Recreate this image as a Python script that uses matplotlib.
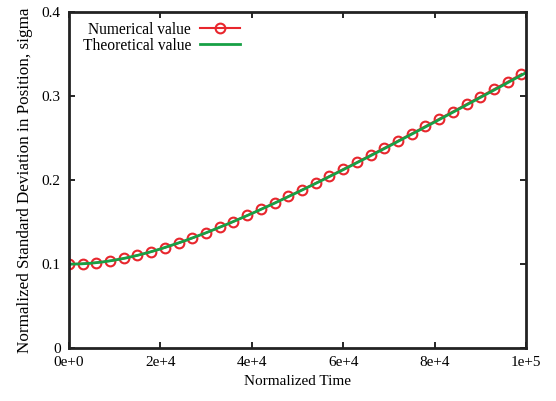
import matplotlib
matplotlib.use("Agg")
import matplotlib.pyplot as plt

plt.rcParams['font.family'] = ['Liberation Serif', 'DejaVu Serif']
plt.rcParams['mathtext.fontset'] = 'stix'

# numerical points (every 3000 time units)
num_time = [0, 3000, 6000, 9000, 12000, 15000, 18000, 21000, 24000, 27000,
            30000, 33000, 36000, 39000, 42000, 45000, 48000, 51000, 54000,
            57000, 60000, 63000, 66000, 69000, 72000, 75000, 78000, 81000,
            84000, 87000, 90000, 93000, 96000, 99000]
num_sigma = [0.1000, 0.1005, 0.1018, 0.1039, 0.1068, 0.1105, 0.1148, 0.1197,
             0.1251, 0.1310, 0.1373, 0.1439, 0.1508, 0.1580, 0.1654, 0.1730,
             0.1808, 0.1887, 0.1967, 0.2049, 0.2132, 0.2215, 0.2300, 0.2385,
             0.2471, 0.2557, 0.2644, 0.2731, 0.2819, 0.2907, 0.2996, 0.3085,
             0.3174, 0.3265]

# theoretical curve
th_time = [0, 2500, 5000, 7500, 10000, 12500, 15000, 17500, 20000, 25000,
           30000, 35000, 40000, 45000, 50000, 55000, 60000, 65000, 70000,
           75000, 80000, 85000, 90000, 95000, 100000]
th_sigma = [0.1000, 0.1003, 0.1012, 0.1027, 0.1048, 0.1074, 0.1105, 0.1141,
            0.1181, 0.1272, 0.1374, 0.1485, 0.1603, 0.1727, 0.1856, 0.1989,
            0.2125, 0.2264, 0.2405, 0.2549, 0.2693, 0.2839, 0.2986, 0.3133,
            0.3282]

xticks = [0, 20000, 40000, 60000, 80000, 100000]
xtick_labels = ["0e+0", "2e+4", "4e+4", "6e+4", "8e+4", "1e+5"]
yticks = [0, 0.1, 0.2, 0.3, 0.4]
ytick_labels = ["0", "0.1", "0.2", "0.3", "0.4"]

fig = plt.figure(figsize=(5.56, 4.01), dpi=100)
ax = fig.add_axes([0.124, 0.132, 0.822, 0.837])

ax.plot(num_time, num_sigma, color='#e8262d', lw=1.5, marker='o',
        markersize=7, markerfacecolor='none', markeredgewidth=1.5,
        label='Numerical value')
ax.plot(th_time, th_sigma, color='#17a045', lw=2, label='Theoretical value')

ax.set_xlim(0, 100000)
ax.set_ylim(0, 0.4)
ax.set_xticks(xticks)
ax.set_xticklabels(xtick_labels)
ax.set_yticks(yticks)
ax.set_yticklabels(ytick_labels)
ax.tick_params(direction='in', length=4, width=1.2, labelsize=11,
               top=True, right=True, pad=6)
for s in ax.spines.values():
    s.set_linewidth(2)
    s.set_color('#222222')

ax.set_xlabel('Normalized Time', fontsize=11, labelpad=4)
ax.set_ylabel('Normalized Standard Deviation in Position, sigma',
              fontsize=12.3, labelpad=6)

ax.legend(loc='upper left', markerfirst=False, frameon=False, fontsize=11.2,
          handlelength=2.6, handletextpad=0.55, labelspacing=0.0,
          borderaxespad=0.2, bbox_to_anchor=(0.01, 1.0))

fig.savefig('out.png', dpi=100)
